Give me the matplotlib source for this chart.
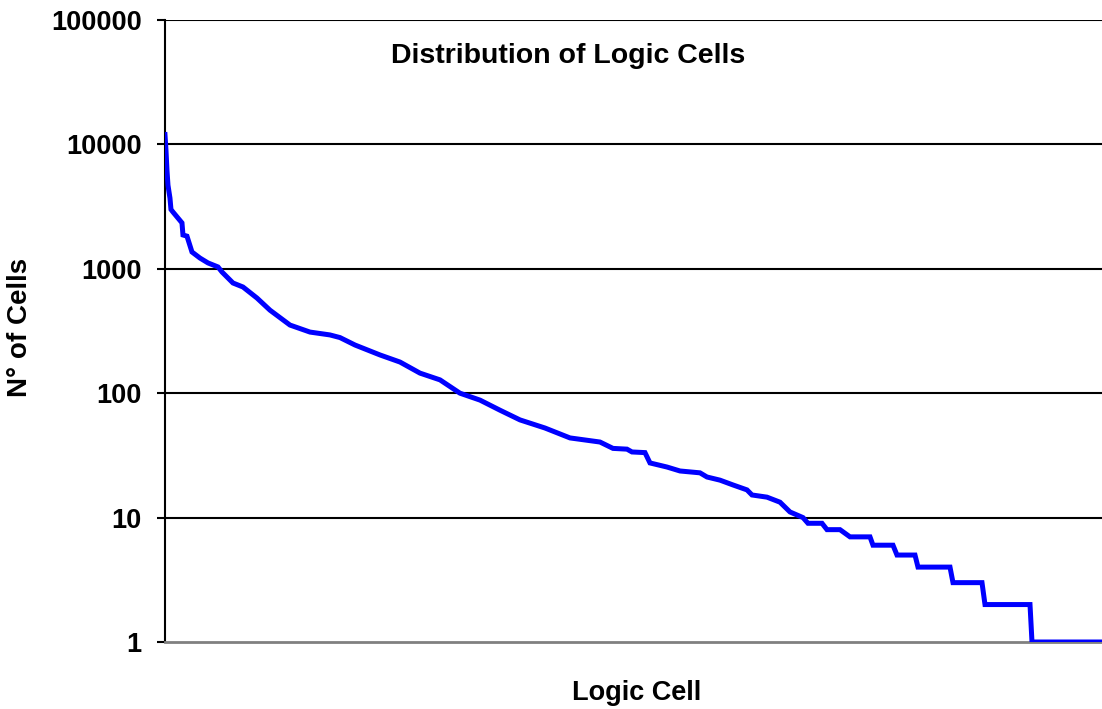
"""
plot.py — rank distribution of logic cells (log y), saved to out.png.
"""
import matplotlib
matplotlib.use("Agg")
import matplotlib.pyplot as plt
from matplotlib.ticker import FixedLocator, NullLocator

# rank of the logic cell (sorted by count) and number of cells
rank = [0, 1, 2, 3, 5, 6, 8, 17, 18, 22, 27, 35, 43, 53, 57, 68, 78, 92, 105,
        125, 145, 165, 175, 190, 215, 235, 255, 275, 295, 315, 335, 355, 380,
        405, 435, 448, 462, 467, 480, 485, 502, 515, 535, 542, 555, 568, 582,
        587, 602, 615, 625, 638, 643, 657, 662, 675, 685, 705, 708, 728, 732,
        750, 753, 785, 788, 817, 820, 865, 867, 937]
cells = [12000, 9000, 6200, 4700, 3700, 3000, 2860, 2340, 1870, 1830, 1365,
         1220, 1115, 1035, 943, 769, 714, 582, 465, 353, 310, 294, 280, 244,
         203, 178, 145, 128, 100, 88, 73, 61, 52.5, 43.7, 40.5, 36, 35.5, 33.7,
         33.3, 27.5, 25.5, 23.7, 22.9, 21.2, 20, 18.3, 16.7, 15.2, 14.6, 13.3,
         11.1, 10, 9, 9, 8, 8, 7, 7, 6, 6, 5, 5, 4, 4, 3, 3, 2, 2, 1, 1]

yticks = [1, 10, 100, 1000, 10000, 100000]
ytick_labels = ["1", "10", "100", "1000", "10000", "100000"]

plt.rcParams["font.family"] = ["Liberation Sans", "DejaVu Sans"]
plt.rcParams["font.weight"] = "bold"

fig = plt.figure(figsize=(11.02, 7.09), dpi=100)
ax = fig.add_axes([0.1497, 0.0945, 0.8503, 0.8773])

ax.plot(rank, cells, color="#0000FF", lw=3.6, solid_joinstyle="miter", zorder=3)

ax.set_yscale("log")
ax.set_ylim(1, 100000)
ax.set_xlim(0, 937)
ax.yaxis.set_major_locator(FixedLocator(yticks))
ax.yaxis.set_minor_locator(NullLocator())
ax.set_yticklabels(ytick_labels, fontsize=19.5, fontweight="bold")
ax.xaxis.set_major_locator(NullLocator())
ax.tick_params(axis="y", length=5.8, width=1.5, direction="out", pad=11)

for v in yticks[1:]:
    ax.axhline(v, color="black", lw=1.5, zorder=1)

for s in ("top", "right"):
    ax.spines[s].set_visible(False)
ax.spines["left"].set_linewidth(1.5)
ax.spines["left"].set_color("black")
ax.spines["bottom"].set_linewidth(2)
ax.spines["bottom"].set_color("#808080")

ax.text(0.430, 0.931, "Distribution of Logic Cells", transform=ax.transAxes,
        ha="center", va="baseline", fontsize=20.5, fontweight="bold")
fig.text(0.5776, 0.012, "Logic Cell", ha="center", va="baseline",
         fontsize=19.5, fontweight="bold")
fig.text(0.018, 0.538, "N° of Cells", ha="center", va="center",
         rotation=90, fontsize=20, fontweight="bold")

fig.savefig("out.png", dpi=100)
